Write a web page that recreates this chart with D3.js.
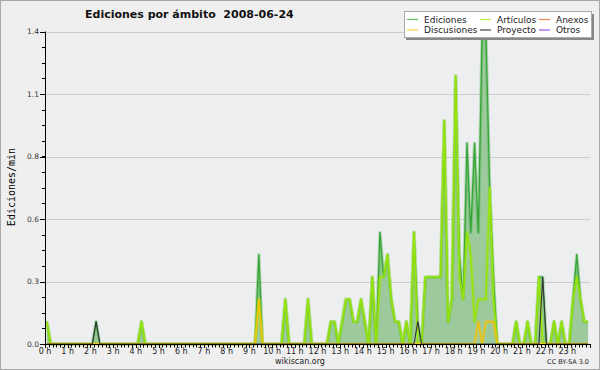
<!DOCTYPE html>
<html>
<head>
<meta charset="utf-8">
<script src="https://cdn.jsdelivr.net/npm/d3@7"></script>
<style>
  body { margin: 0; background: #efefef; }
  svg { display: block; }
</style>
</head>
<body>
<div id="container"></div>
<script>
// ediciones por minuto, en intervalos de 10 minutos (144 por día), 2 horas por fila
const ediciones = [
  0.1, 0, 0, 0, 0, 0, 0, 0, 0, 0, 0, 0,
  0, 0.1, 0, 0, 0, 0, 0, 0, 0, 0, 0, 0,
  0, 0.1, 0, 0, 0, 0, 0, 0, 0, 0, 0, 0,
  0, 0, 0, 0, 0, 0, 0, 0, 0, 0, 0, 0,
  0, 0, 0, 0, 0, 0, 0, 0, 0.4, 0, 0, 0,
  0, 0, 0, 0.2, 0, 0, 0, 0, 0, 0.2, 0, 0,
  0, 0, 0, 0.1, 0.1, 0, 0.1, 0.2, 0.2, 0.1, 0.1, 0.2,
  0.1, 0, 0.3, 0, 0.5, 0.3, 0.4, 0.2, 0.1, 0.1, 0, 0.1,
  0, 0.5, 0.1, 0, 0.3, 0.3, 0.3, 0.3, 0.3, 1.0, 0.1, 0.2,
  1.2, 0.4, 0.2, 0.9, 0.5, 0.9, 0.5, 1.4, 1.4, 0.7, 0.3, 0,
  0, 0, 0, 0, 0.1, 0, 0, 0.1, 0, 0, 0.3, 0.3,
  0, 0, 0.1, 0, 0.1, 0, 0, 0.2, 0.4, 0.2, 0.1, 0.1,
];

const articulos = [
  0.1, 0, 0, 0, 0, 0, 0, 0, 0, 0, 0, 0,
  0, 0, 0, 0, 0, 0, 0, 0, 0, 0, 0, 0,
  0, 0.1, 0, 0, 0, 0, 0, 0, 0, 0, 0, 0,
  0, 0, 0, 0, 0, 0, 0, 0, 0, 0, 0, 0,
  0, 0, 0, 0, 0, 0, 0, 0, 0.2, 0, 0, 0,
  0, 0, 0, 0.2, 0, 0, 0, 0, 0, 0.2, 0, 0,
  0, 0, 0, 0.1, 0.1, 0, 0.1, 0.2, 0.2, 0.1, 0.1, 0.2,
  0.1, 0, 0.3, 0, 0.3, 0.3, 0.4, 0.2, 0.1, 0.1, 0, 0.1,
  0, 0.5, 0, 0, 0.3, 0.3, 0.3, 0.3, 0.3, 1.0, 0.1, 0.2,
  1.2, 0.3, 0.2, 0.5, 0.4, 0.1, 0.2, 0.2, 0.2, 0.7, 0.2, 0,
  0, 0, 0, 0, 0.1, 0, 0, 0.1, 0, 0, 0.3, 0,
  0, 0, 0.1, 0, 0.1, 0, 0, 0.2, 0.3, 0.2, 0.1, 0.1,
];

const discusiones = [
  0, 0, 0, 0, 0, 0, 0, 0, 0, 0, 0, 0,
  0, 0, 0, 0, 0, 0, 0, 0, 0, 0, 0, 0,
  0, 0, 0, 0, 0, 0, 0, 0, 0, 0, 0, 0,
  0, 0, 0, 0, 0, 0, 0, 0, 0, 0, 0, 0,
  0, 0, 0, 0, 0, 0, 0, 0, 0.2, 0, 0, 0,
  0, 0, 0, 0, 0, 0, 0, 0, 0, 0, 0, 0,
  0, 0, 0, 0, 0, 0, 0, 0, 0, 0, 0, 0,
  0, 0, 0, 0, 0, 0, 0, 0, 0, 0, 0, 0,
  0, 0, 0, 0, 0, 0, 0, 0, 0, 0, 0, 0,
  0, 0, 0, 0, 0, 0, 0.1, 0, 0.1, 0.1, 0.1, 0,
  0, 0, 0, 0, 0, 0, 0, 0, 0, 0, 0, 0,
  0, 0, 0, 0, 0, 0, 0, 0, 0, 0, 0, 0,
];

const proyecto = [
  0, 0, 0, 0, 0, 0, 0, 0, 0, 0, 0, 0,
  0, 0.1, 0, 0, 0, 0, 0, 0, 0, 0, 0, 0,
  0, 0, 0, 0, 0, 0, 0, 0, 0, 0, 0, 0,
  0, 0, 0, 0, 0, 0, 0, 0, 0, 0, 0, 0,
  0, 0, 0, 0, 0, 0, 0, 0, 0, 0, 0, 0,
  0, 0, 0, 0, 0, 0, 0, 0, 0, 0, 0, 0,
  0, 0, 0, 0, 0, 0, 0, 0, 0, 0, 0, 0,
  0, 0, 0, 0, 0, 0, 0, 0, 0, 0, 0, 0,
  0, 0, 0.1, 0, 0, 0, 0, 0, 0, 0, 0, 0,
  0, 0, 0, 0, 0, 0, 0, 0, 0, 0, 0, 0,
  0, 0, 0, 0, 0, 0, 0, 0, 0, 0, 0, 0.3,
  0, 0, 0, 0, 0, 0, 0, 0, 0, 0, 0, 0,
];

// sin ediciones ese día
const anexos = [];
const otros = [];

const hourLabels = ["0 h", "1 h", "2 h", "3 h", "4 h", "5 h", "6 h", "7 h", "8 h", "9 h", "10 h", "11 h",
  "12 h", "13 h", "14 h", "15 h", "16 h", "17 h", "18 h", "19 h", "20 h", "21 h", "22 h", "23 h"];
const yTicks = [0, 0.28, 0.56, 0.84, 1.12, 1.4];
const yLabels = ["0.0", "0.3", "0.6", "0.8", "1.1", "1.4"];

const legendItems = [
  { name: "Ediciones", color: "#5dc25d" },
  { name: "Artículos", color: "#b8ee40" },
  { name: "Anexos", color: "#f08050" },
  { name: "Discusiones", color: "#f5d040" },
  { name: "Proyecto", color: "#444" },
  { name: "Otros", color: "#9a50e8" },
];

const width = 600;
const height = 370;
const mLeft = 45, mRight = 590, mTop = 31.5, mBottom = 344;

const svg = d3.create("svg")
  .attr("width", width)
  .attr("height", height)
  .attr("viewBox", [0, 0, width, height]);

svg.append("rect")
  .attr("x", 0.5).attr("y", 0.5)
  .attr("width", width - 1).attr("height", height - 1)
  .attr("fill", "#efefef")
  .attr("stroke", "#a8a8a8");

const x = d3.scaleLinear().domain([0, 24]).range([mLeft, mRight]);
const y = d3.scaleLinear().domain([0, 1.4]).range([mBottom, mTop]);
const bx = (i) => x((i + 0.5) / 6);

svg.append("rect")
  .attr("x", mLeft).attr("y", mTop)
  .attr("width", mRight - mLeft).attr("height", mBottom - mTop)
  .attr("fill", "#edeef0");

// rejilla
svg.append("g")
  .selectAll("line")
  .data(yTicks.slice(1))
  .join("line")
  .attr("x1", mLeft).attr("x2", mRight)
  .attr("y1", (d) => Math.round(y(d)) + 0.5)
  .attr("y2", (d) => Math.round(y(d)) + 0.5)
  .attr("stroke", "#cdcdcd");

const area = d3.area()
  .x((d, i) => bx(i))
  .y0(y(0))
  .y1((d) => y(d));

svg.append("path")
  .attr("d", area(ediciones))
  .attr("fill", "#9dca9c");

const line = d3.line()
  .x((d, i) => bx(i))
  .y((d) => y(d));

function drawSeries(data, color, w, halo) {
  if (!data.length) return;
  if (halo) {
    svg.append("path")
      .attr("d", line(data))
      .attr("fill", "none")
      .attr("stroke", color)
      .attr("stroke-opacity", 0.3)
      .attr("stroke-width", w + 2)
      .attr("stroke-linejoin", "round");
  }
  svg.append("path")
    .attr("d", line(data))
    .attr("fill", "none")
    .attr("stroke", color)
    .attr("stroke-width", w)
    .attr("stroke-linejoin", "round");
}

drawSeries(ediciones, "#36a536", 1.3, true);
drawSeries(articulos, "#96e40a", 1.6, true);
drawSeries(anexos, "#f08050", 1.2, false);
drawSeries(discusiones, "#f2c30e", 1.4, true);
drawSeries(proyecto, "#333", 1.1, false);
drawSeries(otros, "#9a50e8", 1.2, false);

// eje y
const gy = svg.append("g").attr("font-family", "DejaVu Sans").attr("font-size", 7.5).attr("fill", "#333");
gy.append("line")
  .attr("x1", mLeft + 0.5).attr("x2", mLeft + 0.5)
  .attr("y1", mTop).attr("y2", mBottom + 0.5)
  .attr("stroke", "#000");
gy.selectAll("line.major")
  .data(yTicks)
  .join("line")
  .attr("class", "major")
  .attr("x1", mLeft - 5).attr("x2", mLeft)
  .attr("y1", (d) => Math.round(y(d)) + 0.5)
  .attr("y2", (d) => Math.round(y(d)) + 0.5)
  .attr("stroke", "#000");
gy.selectAll("line.minor")
  .data(d3.range(0, 1.4, 0.07))
  .join("line")
  .attr("class", "minor")
  .attr("x1", mLeft - 3).attr("x2", mLeft)
  .attr("y1", (d) => Math.round(y(d)) + 0.5)
  .attr("y2", (d) => Math.round(y(d)) + 0.5)
  .attr("stroke", "#000");
gy.selectAll("text")
  .data(yTicks)
  .join("text")
  .attr("x", mLeft - 6)
  .attr("y", (d) => y(d) + 2.5)
  .attr("text-anchor", "end")
  .text((d, i) => yLabels[i]);

svg.append("text")
  .attr("transform", "translate(15,187) rotate(-90)")
  .attr("text-anchor", "middle")
  .attr("font-family", "DejaVu Sans Mono")
  .attr("font-size", 10)
  .attr("fill", "#000")
  .text("Ediciones/min");

// eje x
const gx = svg.append("g").attr("font-family", "DejaVu Sans").attr("font-size", 8).attr("fill", "#222");
gx.append("line")
  .attr("x1", mLeft).attr("x2", mRight + 1)
  .attr("y1", mBottom + 0.5).attr("y2", mBottom + 0.5)
  .attr("stroke", "#000");
gx.selectAll("line.tick")
  .data(d3.range(0, 145))
  .join("line")
  .attr("class", "tick")
  .attr("x1", (d) => Math.round(x(d / 6)) + 0.5)
  .attr("x2", (d) => Math.round(x(d / 6)) + 0.5)
  .attr("y1", mBottom)
  .attr("y2", (d) => mBottom + (d % 6 === 0 ? 4 : 3.5))
  .attr("stroke", "#000");
gx.selectAll("text")
  .data(hourLabels)
  .join("text")
  .attr("x", (d, i) => x(i))
  .attr("y", 354)
  .attr("text-anchor", "middle")
  .text((d) => d);

// título
svg.append("text")
  .attr("x", 85).attr("y", 18)
  .attr("font-family", "DejaVu Sans")
  .attr("font-weight", "bold")
  .attr("font-size", 11)
  .attr("fill", "#111")
  .attr("xml:space", "preserve")
  .text("Ediciones por ámbito  2008-06-24");

svg.append("text")
  .attr("x", 300).attr("y", 364)
  .attr("text-anchor", "middle")
  .attr("font-family", "DejaVu Sans")
  .attr("font-size", 8)
  .attr("fill", "#222")
  .text("wikiscan.org");

svg.append("text")
  .attr("x", 589).attr("y", 364)
  .attr("text-anchor", "end")
  .attr("font-family", "DejaVu Sans")
  .attr("font-size", 6.5)
  .attr("fill", "#222")
  .text("CC BY-SA 3.0");

// leyenda
const lg = svg.append("g");
lg.append("rect")
  .attr("x", 406).attr("y", 14)
  .attr("width", 188).attr("height", 26)
  .attr("fill", "#888");
lg.append("rect")
  .attr("x", 404.5).attr("y", 11.5)
  .attr("width", 187).attr("height", 26)
  .attr("fill", "#fff")
  .attr("stroke", "#aaa");
const colX = [407, 480, 539];
const rowY = [19, 29.5];
legendItems.forEach((d, i) => {
  const cx = colX[i % 3];
  const cy = rowY[Math.floor(i / 3)];
  lg.append("line")
    .attr("x1", cx).attr("x2", cx + 11)
    .attr("y1", cy + 0.5).attr("y2", cy + 0.5)
    .attr("stroke", d.color)
    .attr("stroke-width", 1.2);
  lg.append("text")
    .attr("x", cx + 17)
    .attr("y", cy + 3.5)
    .attr("font-family", "DejaVu Sans")
    .attr("font-size", 9)
    .attr("fill", "#222")
    .text(d.name);
});

document.getElementById("container").append(svg.node());
</script>
</body>
</html>
